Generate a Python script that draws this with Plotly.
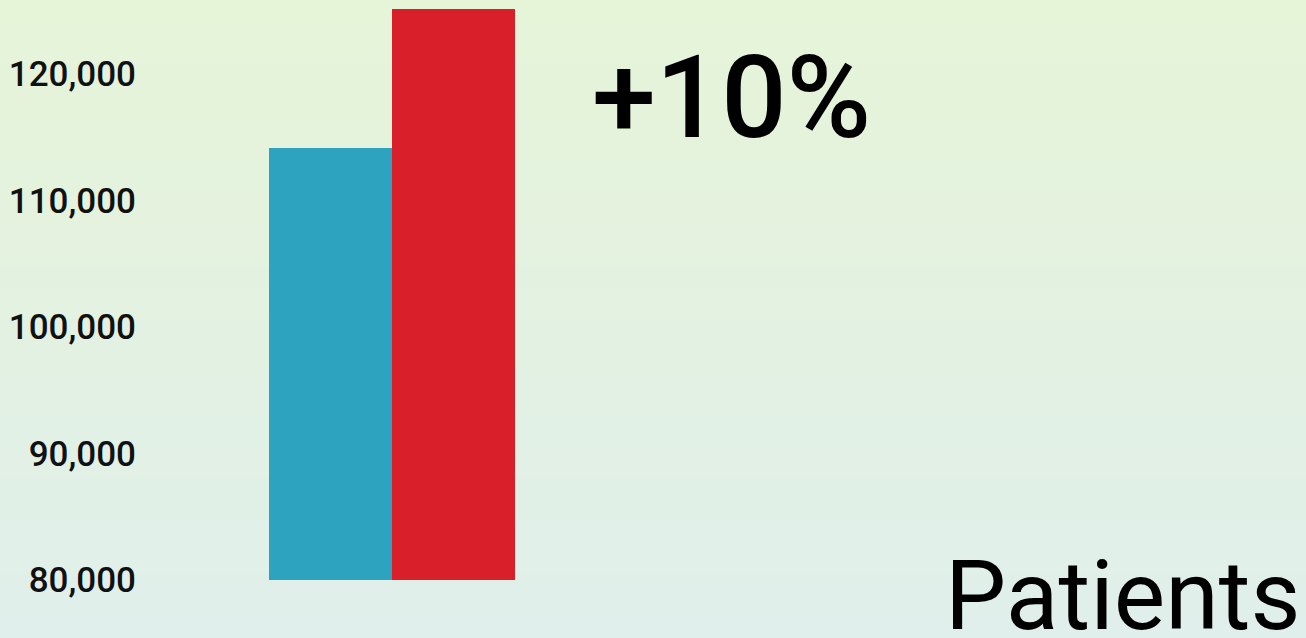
import plotly.graph_objects as go

categories = ["Before", "After"]
patients = [114150, 125500]
bar_colors = ["#2ea3c0", "#d91f29"]
tick_values = [80000, 90000, 100000, 110000, 120000]
tick_labels = ["80,000", "90,000", "100,000", "110,000", "120,000"]
change_label = "+10%"
title_label = "Patients"

W, H = 1306, 638
ml, mr, mt, mb = 145, 0, 9, 58

fig = go.Figure()
fig.add_trace(go.Bar(
    x=categories, y=[v - 80000 for v in patients], base=80000,
    marker=dict(color=bar_colors, line=dict(width=0)),
    width=1.0, hoverinfo="skip",
))

# background vertical gradient
top = (230, 244, 216)
bot = (224, 239, 235)
n = 60
y0 = -mb / (H - mt - mb)
y1 = 1 + mt / (H - mt - mb)
shapes = []
for i in range(n):
    t = i / (n - 1)
    c = tuple(round(bot[k] + (top[k] - bot[k]) * t) for k in range(3))
    ya = y0 + (y1 - y0) * i / n
    yb = y0 + (y1 - y0) * (i + 1) / n + 0.002
    shapes.append(dict(type="rect", xref="paper", yref="paper", x0=-0.2, x1=1.05,
                       y0=ya, y1=yb, fillcolor="rgb(%d,%d,%d)" % c,
                       line=dict(width=0), layer="below"))

fig.update_layout(
    width=W, height=H,
    margin=dict(l=ml, r=mr, t=mt, b=mb, pad=0),
    paper_bgcolor="rgb(227,241,226)", plot_bgcolor="rgba(0,0,0,0)",
    shapes=shapes, showlegend=False, bargap=0,
    font=dict(family="Roboto", color="#111111"),
    xaxis=dict(visible=False, range=[-1.508, 7.94]),
    yaxis=dict(range=[80000, 125140], tickvals=tick_values, ticktext=tick_labels,
               showgrid=False, zeroline=False, showline=False, ticks="",
               tickfont=dict(size=35, family="Roboto", weight=500, color="#111111"),
               ticklabelstandoff=8),
    annotations=[
        dict(text=change_label, xref="paper", yref="paper", x=0.383, y=0.845,
             xanchor="left", yanchor="middle", showarrow=False,
             font=dict(size=115, family="Roboto", weight=500, color="#000000")),
        dict(text=title_label, xref="paper", yref="paper", x=0.997, y=-0.028,
             xanchor="right", yanchor="middle", showarrow=False,
             font=dict(size=97, family="Roboto", color="#000000")),
    ],
)
fig.write_html("out.html", config={"displayModeBar": False},
               post_script="document.body.style.margin='0';document.body.style.overflow='hidden';")
